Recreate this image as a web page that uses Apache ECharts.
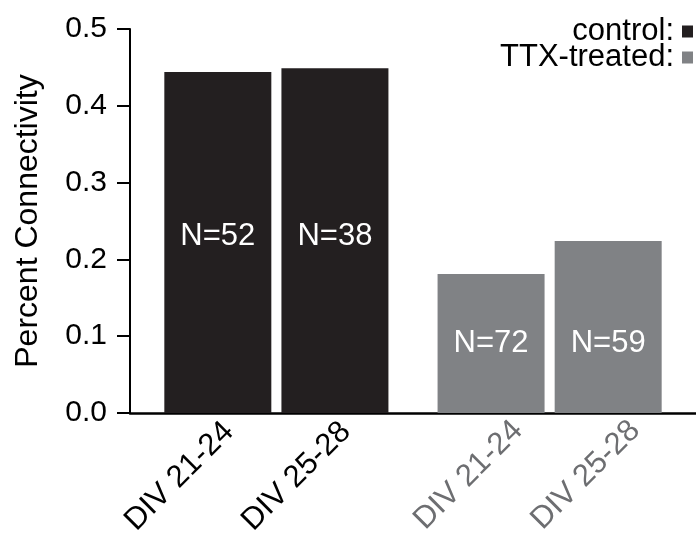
<!DOCTYPE html>
<html>
<head>
<meta charset="utf-8">
<script src="https://cdn.jsdelivr.net/npm/echarts@6/dist/echarts.min.js"></script>
<style>
  html, body { margin: 0; padding: 0; background: #ffffff; }
  #chart { width: 696px; height: 538px; }
</style>
</head>
<body>
<div id="chart"></div>
<script>
// ---- data ----
const categories = ['DIV 21-24', 'DIV 25-28', 'DIV 21-24', 'DIV 25-28'];
const seriesNames = ['control', 'TTX-treated'];
const controlValues = [0.444, 0.449];
const ttxValues = [0.181, 0.224];
const controlN = ['N=52', 'N=38'];
const ttxN = ['N=72', 'N=59'];
const yTicks = [0.0, 0.1, 0.2, 0.3, 0.4, 0.5];

// ---- layout (not data): the axis is split into equal slots, bars sit in some ----
const SLOT_COUNT = 29;
const BAR_SLOTS = [4, 10, 18, 24];
const COLORS = { control: '#231f20', ttx: '#808285', ttxText: '#6d6e71' };
const FONT = '"Liberation Sans", Arial, Helvetica, sans-serif';

const axisData = [];
for (let i = 0; i < SLOT_COUNT; i++) axisData.push(' '.repeat(i + 1));
const controlData = new Array(SLOT_COUNT).fill(null);
const ttxData = new Array(SLOT_COUNT).fill(null);
const slotGroup = {};
categories.forEach((name, k) => {
  axisData[BAR_SLOTS[k]] = name;
  slotGroup[BAR_SLOTS[k]] = k < controlValues.length ? 'c' : 't';
});
controlValues.forEach((v, k) => {
  controlData[BAR_SLOTS[k]] = { value: v, label: { formatter: controlN[k] } };
});
ttxValues.forEach((v, k) => {
  ttxData[BAR_SLOTS[controlValues.length + k]] = { value: v, label: { formatter: ttxN[k] } };
});

const chart = echarts.init(document.getElementById('chart'));
chart.setOption({
  animation: false,
  backgroundColor: '#ffffff',
  textStyle: { fontFamily: FONT },
  grid: { left: 130, right: 0, top: 29, bottom: 125, containLabel: false, outerBoundsMode: 'none' },
  legend: {
    orient: 'vertical', right: 3, top: 16, align: 'right', padding: 0,
    itemWidth: 11, itemHeight: 12, itemGap: -5, icon: 'rect',
    formatter: n => n + ':',
    textStyle: { fontSize: 31, color: '#000', fontFamily: FONT, padding: [0, 3, 0, 0] },
    data: seriesNames
  },
  xAxis: {
    type: 'category', data: axisData, boundaryGap: true,
    axisLine: { lineStyle: { color: '#000', width: 2.5 } },
    axisTick: { show: false },
    axisLabel: {
      interval: 0, rotate: 45, margin: -14, fontSize: 31, color: '#000', fontFamily: FONT,
      formatter: (value, index) => slotGroup[index] ? '{' + slotGroup[index] + '|' + value + '}' : '',
      rich: {
        c: { color: '#000', fontSize: 31, fontFamily: FONT, padding: [55, 12, 0, 0] },
        t: { color: COLORS.ttxText, fontSize: 31, fontFamily: FONT, padding: [76, 0, 0, 0] }
      }
    }
  },
  yAxis: {
    type: 'value', min: 0, max: 0.5, interval: 0.1,
    name: 'Percent Connectivity', nameLocation: 'middle', nameGap: 86,
    nameTextStyle: { fontSize: 32, color: '#000', fontFamily: FONT },
    axisLine: { show: true, lineStyle: { color: '#000', width: 2 } },
    axisTick: { show: true, inside: false, length: 13, lineStyle: { color: '#000', width: 2 } },
    axisLabel: { fontSize: 30, color: '#000', margin: 23, fontFamily: FONT, formatter: v => v.toFixed(1) },
    splitLine: { show: false }
  },
  series: [
    {
      name: seriesNames[0], type: 'bar', data: controlData, barWidth: 107, barGap: '-100%',
      itemStyle: { color: COLORS.control },
      label: { show: true, position: 'insideBottom', distance: 161, color: '#fff', fontSize: 31, fontFamily: FONT }
    },
    {
      name: seriesNames[1], type: 'bar', data: ttxData, barWidth: 107, barGap: '-100%',
      itemStyle: { color: COLORS.ttx },
      label: { show: true, position: 'insideBottom', distance: 54, color: '#fff', fontSize: 31, fontFamily: FONT }
    }
  ]
});
</script>
</body>
</html>
